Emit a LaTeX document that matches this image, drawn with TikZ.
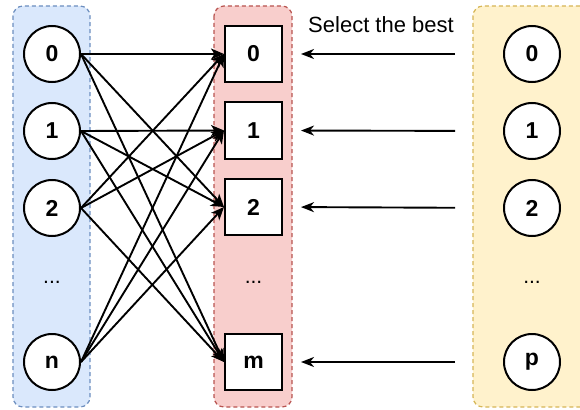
\documentclass[tikz,border=0pt]{standalone}
\usepackage{fontspec}
\setmainfont{Liberation Sans}
\usetikzlibrary{arrows.meta}

\definecolor{blueFill}{HTML}{DAE8FC}
\definecolor{blueLine}{HTML}{6C8EBF}
\definecolor{redFill}{HTML}{F8CECC}
\definecolor{redLine}{HTML}{B85450}
\definecolor{yellowFill}{HTML}{FFF2CC}
\definecolor{yellowLine}{HTML}{D6B656}

\tikzset{
  group/.style={rounded corners=10pt, dashed, dash pattern=on 4pt off 3pt, line width=1.2pt},
  unit/.style={circle, draw, fill=white, line width=2pt, minimum size=56pt, inner sep=0pt,
    font=\fontsize{23pt}{23pt}\selectfont\bfseries},
  slot/.style={rectangle, draw, fill=white, line width=2pt, minimum width=57pt, minimum height=56pt,
    inner sep=0pt, font=\fontsize{23pt}{23pt}\selectfont\bfseries},
  gap/.style={font=\fontsize{21pt}{21pt}\selectfont, inner sep=0pt},
  link/.style={line width=1.9pt, -{Stealth[length=13pt, width=11pt, inset=3.5pt]}},
  pick/.style={line width=1.9pt, -{Stealth[length=13pt, width=10pt, inset=4pt]},
    shorten <=48pt, shorten >=18pt},
}

\begin{document}
\begin{tikzpicture}[x=1pt, y=-1pt]
  \useasboundingbox (0,0) rectangle (580,409);
  \clip (0,0) rectangle (580,409);

  % column backgrounds
  \draw[group, fill=blueFill, draw=blueLine] (13,6) rectangle (90,407);
  \draw[group, fill=redFill, draw=redLine] (214,6) rectangle (292,407);
  \draw[group, fill=yellowFill, draw=yellowLine] (473,6) rectangle (592,407);

  % left column
  \node[unit] (c0) at (52,54) {0};
  \node[unit] (c1) at (52,131) {1};
  \node[unit] (c2) at (52,208) {2};
  \node[gap]  (cd) at (52,282) {...};
  \node[unit] (cn) at (52,362) {n};

  % middle column
  \node[slot] (s0) at (253.5,54) {0};
  \node[slot] (s1) at (253.5,130.5) {1};
  \node[slot] (s2) at (253.5,207) {2};
  \node[gap]  (sd) at (253.5,282) {...};
  \node[slot] (sm) at (253.5,362) {m};

  % right column
  \node[unit] (p0) at (532,54) {0};
  \node[unit] (p1) at (532,131) {1};
  \node[unit] (p2) at (532,208) {2};
  \node[gap]  (pd) at (532,282) {...};
  \node[unit] (pp) at (532,362) {p};

  % caption
  \node[anchor=base, inner sep=0pt, font=\fontsize{22pt}{22pt}\selectfont] (cap) at (381,33) {Select the best};

  % connections between left and middle columns
  \foreach \a/\b in {c0/s0, c0/s2, c0/sm,
                     c1/s1, c1/s2, c1/sm,
                     c2/s0, c2/s1, c2/sm,
                     cn/s0, cn/s1, cn/s2}{
    \draw[link] (\a.east) -- (\b.west);
  }

  % selection arrows
  \draw[pick] (p0.west) -- (s0.east);
  \draw[pick] (p1.west) -- (s1.east);
  \draw[pick] (p2.west) -- (s2.east);
  \draw[pick] (pp.west) -- (sm.east);
\end{tikzpicture}
\end{document}
